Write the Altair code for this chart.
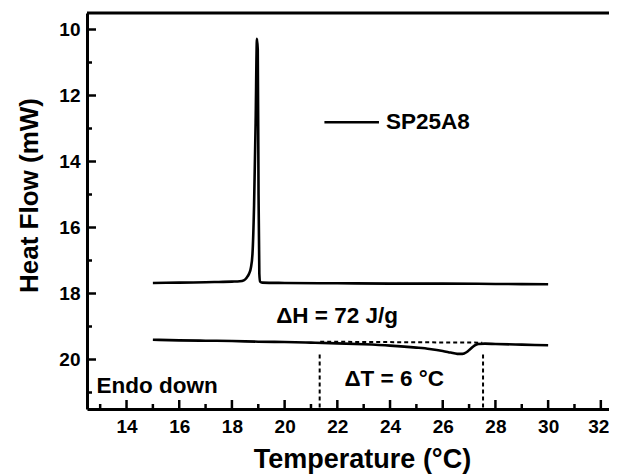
import altair as alt
import pandas as pd

# ---- data ----
cool_x = [15.0, 16.0, 17.0, 17.5, 18.0, 18.3, 18.45, 18.56, 18.65, 18.72, 18.78, 18.84, 18.9, 18.95,
          18.98, 19.01, 19.04, 19.07, 19.15, 20.0, 22.0, 24.0, 26.0, 28.0, 30.0]
cool_y = [17.68, 17.67, 17.66, 17.65, 17.64, 17.63, 17.6, 17.52, 17.4, 17.22, 16.8, 15.34, 12.8, 10.28,
          10.6, 15.0, 17.4, 17.64, 17.67, 17.68, 17.69, 17.70, 17.70, 17.71, 17.72]

heat_x = [15, 16, 17, 18, 19, 20, 21, 22, 23, 24, 25, 25.5, 26, 26.3, 26.55, 26.75, 26.9, 27.05,
          27.2, 27.35, 27.6, 28, 29, 30]
heat_y = [19.40, 19.42, 19.43, 19.44, 19.46, 19.47, 19.49, 19.51, 19.54, 19.58, 19.64, 19.68, 19.74,
          19.79, 19.83, 19.83, 19.78, 19.68, 19.58, 19.53, 19.52, 19.53, 19.55, 19.57]

base_x = [21.35, 27.5]
base_y = [19.46, 19.49]

onset_x = [21.33, 27.53]
onset_top = 19.85

legend_label = "SP25A8"
x_major = [14, 16, 18, 20, 22, 24, 26, 28, 30, 32]
x_minor = [13, 15, 17, 19, 21, 23, 25, 27, 29, 31]
y_major = [10, 12, 14, 16, 18, 20]
y_minor = [11, 13, 15, 17, 19, 21]

X_DOM = [12.5, 32.31]
Y_DOM = [9.5, 21.5]
W, H = 522, 396
FONT = "Liberation Sans"

xs = alt.Scale(domain=X_DOM, nice=False, zero=False)
ys = alt.Scale(domain=Y_DOM, nice=False, zero=False, reverse=True)

x_axis = alt.Axis(values=x_major, title="Temperature (°C)", ticks=False, grid=False,
                  domainWidth=3, domainColor="black", labelFont=FONT, labelFontSize=19,
                  labelFontWeight="bold", labelColor="black", labelPadding=8,
                  labelAlign=alt.expr("datum.value == 32 ? 'right' : 'center'"),
                  labelOffset=alt.expr("datum.value == 32 ? 8 : 0"),
                  titleFont=FONT, titleFontSize=27, titleFontWeight="bold", titleColor="black",
                  titlePadding=10, titleX=275, format="d")
y_axis = alt.Axis(values=y_major, title="Heat Flow (mW)", ticks=False, grid=False,
                  domainWidth=3, domainColor="black", labelFont=FONT, labelFontSize=19,
                  labelFontWeight="bold", labelColor="black", labelPadding=7,
                  titleFont=FONT, titleFontSize=26, titleFontWeight="bold", titleColor="black",
                  titlePadding=16, titleY=182, format="d")

def X(field="x"):
    return alt.X(f"{field}:Q", scale=xs, axis=x_axis)

def Y(field="y"):
    return alt.Y(f"{field}:Q", scale=ys, axis=y_axis)

cool = alt.Chart(pd.DataFrame({"x": cool_x, "y": cool_y})).mark_line(
    color="black", strokeWidth=2.6, interpolate="monotone").encode(
    x=X(), y=Y(), order="x:Q")

heat = alt.Chart(pd.DataFrame({"x": heat_x, "y": heat_y})).mark_line(
    color="black", strokeWidth=2.6, interpolate="monotone").encode(x=X(), y=Y())

base = alt.Chart(pd.DataFrame({"x": base_x, "y": base_y})).mark_line(
    color="black", strokeWidth=2, strokeDash=[4, 3]).encode(x=X(), y=Y())

onset = alt.Chart(pd.DataFrame({"x": onset_x, "y": [onset_top] * 2, "y2": [Y_DOM[1]] * 2})).mark_rule(
    color="black", strokeWidth=2, strokeDash=[4, 3]).encode(x=X(), y=Y(), y2="y2:Q")

leg_line = alt.Chart(pd.DataFrame({"x": [21.51], "x2": [23.58], "y": [12.81]})).mark_rule(
    color="black", strokeWidth=2.6).encode(x=X(), x2="x2:Q", y=Y())

texts = pd.DataFrame({
    "x": [23.85, 19.68, 22.27, 12.86],
    "y": [12.81, 18.69, 20.58, 20.81],
    "t": [legend_label, "ΔH = 72 J/g", "ΔT = 6 °C", "Endo down"],
})
txt = alt.Chart(texts).mark_text(align="left", baseline="middle", font=FONT, fontSize=22.5,
                                 fontWeight="bold", color="black").encode(
    x=X(), y=Y(), text="t:N")

xmaj = alt.Chart(pd.DataFrame({"x": x_major})).mark_rule(color="black", strokeWidth=2.5).encode(
    x=X(), y=alt.value(H), y2=alt.value(H - 9))
xmin = alt.Chart(pd.DataFrame({"x": x_minor})).mark_rule(color="black", strokeWidth=2.5).encode(
    x=X(), y=alt.value(H), y2=alt.value(H - 5))
ymaj = alt.Chart(pd.DataFrame({"y": y_major})).mark_rule(color="black", strokeWidth=2.5).encode(
    y=Y(), x=alt.value(0), x2=alt.value(9))
ymin = alt.Chart(pd.DataFrame({"y": y_minor})).mark_rule(color="black", strokeWidth=2.5).encode(
    y=Y(), x=alt.value(0), x2=alt.value(5))

top = alt.Chart(pd.DataFrame({"y": [Y_DOM[0]]})).mark_rule(color="black", strokeWidth=3).encode(
    y=Y(), x=alt.value(0), x2=alt.value(W))

chart = alt.layer(cool, heat, base, onset, leg_line, txt, xmaj, xmin, ymaj, ymin, top).properties(
    width=W, height=H,
    autosize=alt.AutoSizeParams(type="none"),
    padding={"left": 79, "top": 5, "right": 0, "bottom": 66},
).configure_view(stroke="#bbbbbb", strokeWidth=1).configure(background="white")

chart.save("out.html", embed_options={"renderer": "svg", "actions": False})
